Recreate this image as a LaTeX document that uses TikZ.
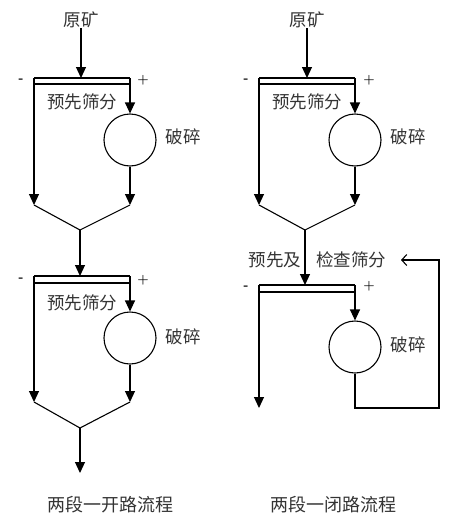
\documentclass[tikz,border=0pt]{standalone}
\usepackage{fontspec}
\newfontfamily\cjk{Noto Sans CJK SC}
\usetikzlibrary{arrows.meta}
\tikzset{
 pipe/.style={line width=1.1pt},
 flow/.style={line width=1.1pt,-{Triangle[length=11pt,width=10pt]}},
 back/.style={line width=1.1pt,-{Straight Barb[length=5pt,width=11pt]}},
 crusher/.style={circle,draw,line width=1.1pt,minimum size=52pt,inner sep=0pt},
 lbl/.style={font=\cjk\fontsize{17.5}{17.5}\selectfont,text=black!80,inner sep=0pt},
 caption/.style={lbl,font=\cjk\fontsize{18}{18}\selectfont},
 sign/.style={font=\bfseries\fontsize{13}{13}\selectfont,inner sep=0pt}
}
\begin{document}
\begin{tikzpicture}[x=1pt,y=-1pt]
 \useasboundingbox (0,0) rectangle (457,525);
 % open circuit, first stage
 \node[lbl] (ore1) at (81,20) {原矿};
 \coordinate (s1a) at (34,78); \coordinate (s1m) at (81,78); \coordinate (s1b) at (130,78);
 \draw[pipe] (s1a) -- (s1b); \draw[pipe] (34,84) -- (130,84);
 \node[sign] (m1) at (21,81) {-};
 \node[sign] (p1) at (143,80) {+};
 \node[lbl] (pre1) at (82,102) {预先筛分};
 \node[crusher] (c1) at (130,140) {};
 \node[lbl] (cr1) at (183,137) {破碎};
 \coordinate (v1a) at (34,205); \coordinate (v1m) at (80,230); \coordinate (v1b) at (130,205);
 \draw[flow] (ore1) -- (s1m);
 \draw[flow] (s1b) -- (c1);
 \draw[flow] (s1a) -- (v1a);
 \draw[flow] (c1) -- (v1b);
 \draw[pipe] (v1a) -- (v1m) -- (v1b);
 % open circuit, second stage
 \coordinate (s2a) at (34,276); \coordinate (s2m) at (80,276); \coordinate (s2b) at (130,276);
 \draw[pipe] (s2a) -- (s2b); \draw[pipe] (34,283) -- (130,283);
 \node[sign] (m2) at (21,280) {-};
 \node[sign] (p2) at (143,280) {+};
 \node[lbl] (pre2) at (82,303) {预先筛分};
 \node[crusher] (c2) at (130,338) {};
 \node[lbl] (cr2) at (183,337) {破碎};
 \coordinate (v2a) at (34,402); \coordinate (v2m) at (80,428); \coordinate (v2b) at (130,402);
 \coordinate (out1) at (80,473);
 \draw[flow] (v1m) -- (s2m);
 \draw[flow] (s2b) -- (c2);
 \draw[flow] (s2a) -- (v2a);
 \draw[flow] (c2) -- (v2b);
 \draw[pipe] (v2a) -- (v2m) -- (v2b);
 \draw[flow] (v2m) -- (out1);
 \node[caption] (cap1) at (110,505) {两段一开路流程};
 % closed circuit, first stage
 \node[lbl] (ore2) at (307,20) {原矿};
 \coordinate (s3a) at (259,78); \coordinate (s3m) at (307,78); \coordinate (s3b) at (355,78);
 \draw[pipe] (s3a) -- (s3b); \draw[pipe] (259,84) -- (355,84);
 \node[sign] (m3) at (246,81) {-};
 \node[sign] (p3) at (369,80) {+};
 \node[lbl] (pre3) at (307,102) {预先筛分};
 \node[crusher] (c3) at (355,140) {};
 \node[lbl] (cr3) at (408,137) {破碎};
 \coordinate (v3a) at (259,205); \coordinate (v3m) at (305,230); \coordinate (v3b) at (355,205);
 \draw[flow] (ore2) -- (s3m);
 \draw[flow] (s3b) -- (c3);
 \draw[flow] (s3a) -- (v3a);
 \draw[flow] (c3) -- (v3b);
 \draw[pipe] (v3a) -- (v3m) -- (v3b);
 % closed circuit, second stage
 \node[lbl] (pre4a) at (275,260) {预先及};
 \node[lbl] (pre4b) at (351,260) {检查筛分};
 \coordinate (s4a) at (259,285); \coordinate (s4m) at (305,285); \coordinate (s4b) at (355,285);
 \draw[pipe] (s4a) -- (s4b); \draw[pipe] (259,292) -- (355,292);
 \node[sign] (m4) at (246,288) {-};
 \node[sign] (p4) at (369,286) {+};
 \node[crusher] (c4) at (355,347) {};
 \node[lbl] (cr4) at (408,345) {破碎};
 \coordinate (out2) at (259,408);
 \coordinate (r1) at (355,408); \coordinate (r2) at (439,408); \coordinate (r3) at (439,260);
 \coordinate (r4) at (401,260);
 \draw[flow] (v3m) -- (s4m);
 \draw[flow] (s4b) -- (c4);
 \draw[flow] (s4a) -- (out2);
 \draw[back] (c4) -- (r1) -- (r2) -- (r3) -- (r4);
 \node[caption] (cap2) at (333,505) {两段一闭路流程};
\end{tikzpicture}
\end{document}
